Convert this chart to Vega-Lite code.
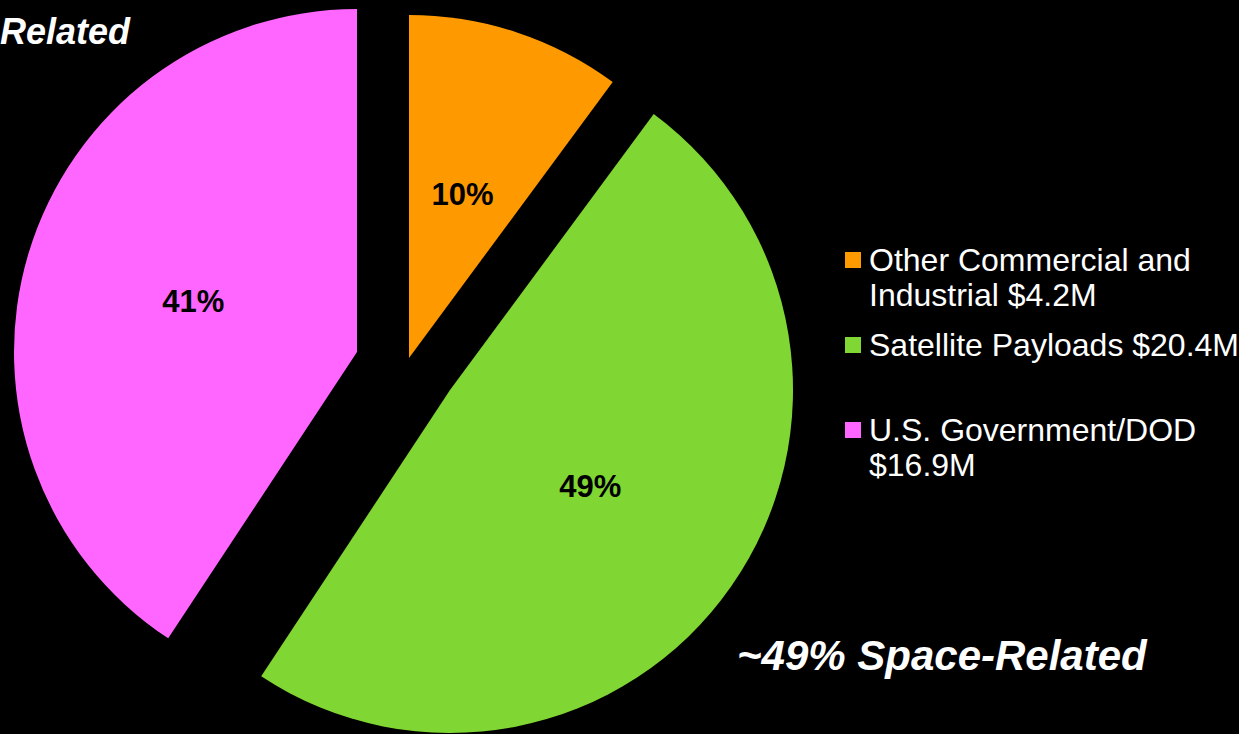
{
  "$schema": "https://vega.github.io/schema/vega-lite/v6.json",
  "background": "#000000",
  "padding": 0,
  "autosize": {"type": "pad"},
  "config": {"view": {"stroke": null}, "font": "Liberation Sans"},
  "title": {"text": "Related", "anchor": "start", "frame": "group", "orient": "top", "offset": -80, "baseline": "alphabetic", "font": "Liberation Sans", "fontSize": 36, "fontStyle": "italic", "fontWeight": "bold", "color": "#ffffff"},
  "vconcat": [
    {
      "width": 812,
      "height": 734,
      "title": {"text": "~49% Space-Related", "orient": "bottom", "anchor": "start", "frame": "group", "dx": 737, "offset": -64, "baseline": "alphabetic", "font": "Liberation Sans", "fontSize": 42, "fontStyle": "italic", "fontWeight": "bold", "color": "#ffffff"},
      "data": {
        "values": [
          {"segment": "Other Commercial and Industrial $4.2M", "revenue": 4.2, "share": 0.10},
          {"segment": "Satellite Payloads $20.4M", "revenue": 20.4, "share": 0.49},
          {"segment": "U.S. Government/DOD $16.9M", "revenue": 16.9, "share": 0.41}
        ]
      },
      "transform": [
        {"stack": "revenue", "groupby": [], "sort": [{"field": "segment", "order": "ascending"}], "as": ["start", "end"]}
      ],
      "encoding": {
        "color": {
          "field": "segment",
          "type": "nominal",
          "scale": {
            "domain": ["Other Commercial and Industrial $4.2M", "Satellite Payloads $20.4M", "U.S. Government/DOD $16.9M"],
            "range": ["#FF9900", "#80D632", "#FF66FF"]
          },
          "legend": {
            "title": null,
            "orient": "none",
            "legendX": 837,
            "legendY": 244,
            "padding": 0,
            "symbolType": "square",
            "symbolSize": 256,
            "symbolStrokeWidth": 0,
            "labelFont": "Liberation Sans",
            "labelFontSize": 32,
            "labelColor": "#ffffff",
            "labelLimit": 0,
            "labelOffset": 0,
            "gridAlign": "all",
            "rowPadding": 17,
            "labelBaseline": "alphabetic",
            "labelExpr": "datum.label == 'Other Commercial and Industrial $4.2M' ? ['Other Commercial and', 'Industrial $4.2M'] : datum.label == 'U.S. Government/DOD $16.9M' ? ['U.S. Government/DOD', '$16.9M'] : datum.label",
            "encode": {"labels": {"update": {"lineHeight": {"value": 35}, "dy": {"value": 11}}}}
          }
        }
      },
      "layer": [
        {
          "transform": [{"filter": "datum.segment == 'Other Commercial and Industrial $4.2M'"}],
          "mark": {"type": "arc", "radius": 343, "xOffset": 3, "yOffset": -9},
          "encoding": {"theta": {"field": "start", "type": "quantitative", "scale": {"domain": [0, 41.5], "nice": false}}, "theta2": {"field": "end"}}
        },
        {
          "transform": [{"filter": "datum.segment == 'Satellite Payloads $20.4M'"}],
          "mark": {"type": "arc", "radius": 343, "xOffset": 44, "yOffset": 23},
          "encoding": {"theta": {"field": "start", "type": "quantitative", "scale": {"domain": [0, 41.5], "nice": false}}, "theta2": {"field": "end"}}
        },
        {
          "transform": [{"filter": "datum.segment == 'U.S. Government/DOD $16.9M'"}],
          "mark": {"type": "arc", "radius": 343, "xOffset": -49, "yOffset": -15},
          "encoding": {"theta": {"field": "start", "type": "quantitative", "scale": {"domain": [0, 41.5], "nice": false}}, "theta2": {"field": "end"}}
        },
        {
          "mark": {"type": "text", "radius": 171, "xOffset": 3, "yOffset": -9, "font": "Liberation Sans", "fontSize": 31, "fontWeight": "bold", "fill": "#000000"},
          "encoding": {
            "theta": {"field": "revenue", "type": "quantitative", "stack": true},
            "order": {"field": "segment", "type": "ordinal", "sort": "ascending"},
            "text": {"condition": {"test": "datum.segment == 'Other Commercial and Industrial $4.2M'", "field": "share", "type": "quantitative", "format": ".0%"}, "value": ""},
            "color": {"value": "#000000"}
          }
        },
        {
          "mark": {"type": "text", "radius": 171, "xOffset": 44, "yOffset": 23, "font": "Liberation Sans", "fontSize": 31, "fontWeight": "bold", "fill": "#000000"},
          "encoding": {
            "theta": {"field": "revenue", "type": "quantitative", "stack": true},
            "order": {"field": "segment", "type": "ordinal", "sort": "ascending"},
            "text": {"condition": {"test": "datum.segment == 'Satellite Payloads $20.4M'", "field": "share", "type": "quantitative", "format": ".0%"}, "value": ""},
            "color": {"value": "#000000"}
          }
        },
        {
          "mark": {"type": "text", "radius": 171, "xOffset": -49, "yOffset": -15, "font": "Liberation Sans", "fontSize": 31, "fontWeight": "bold", "fill": "#000000"},
          "encoding": {
            "theta": {"field": "revenue", "type": "quantitative", "stack": true},
            "order": {"field": "segment", "type": "ordinal", "sort": "ascending"},
            "text": {"condition": {"test": "datum.segment == 'U.S. Government/DOD $16.9M'", "field": "share", "type": "quantitative", "format": ".0%"}, "value": ""},
            "color": {"value": "#000000"}
          }
        }
      ]
    }
  ]
}
